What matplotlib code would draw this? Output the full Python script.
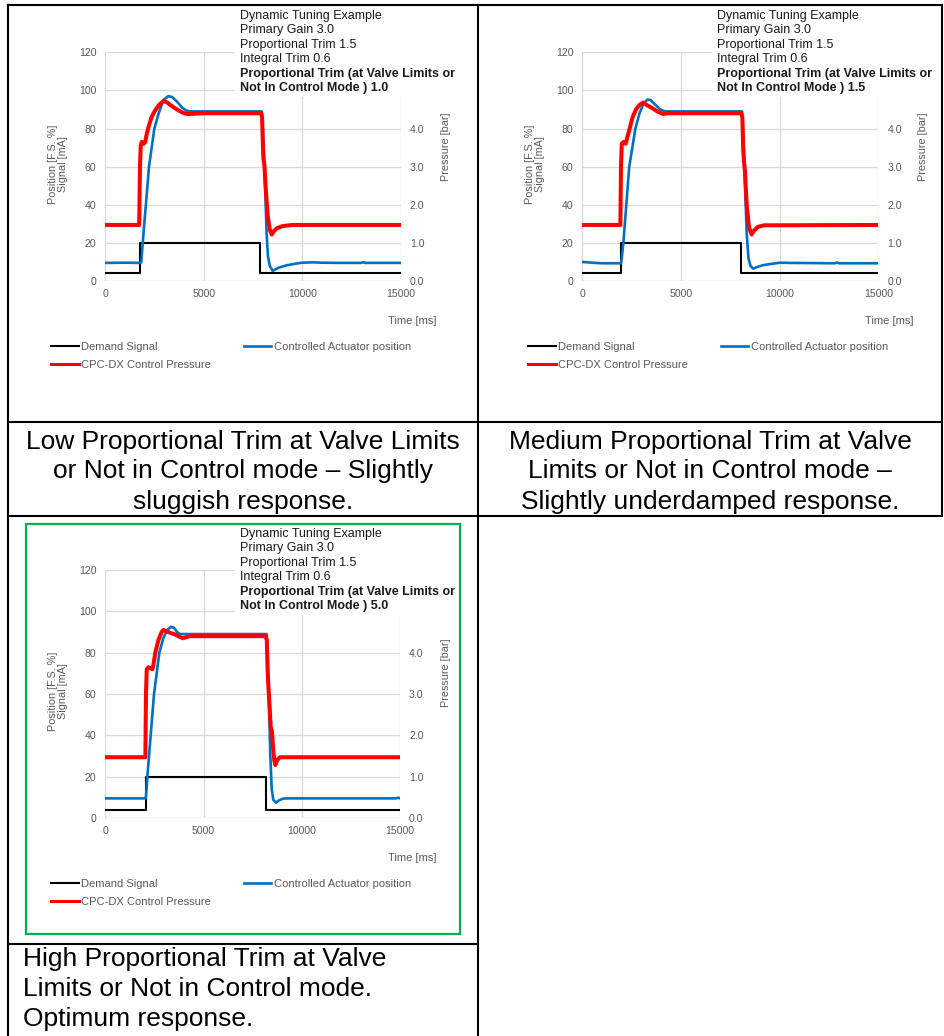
import matplotlib
matplotlib.use("Agg")
import matplotlib.pyplot as plt
from matplotlib.lines import Line2D
from matplotlib.patches import Rectangle

plt.rcParams['font.family'] = ['Liberation Sans', 'DejaVu Sans']

# ---------------- data ----------------
# Panel 1: Proportional trim (valve limits) 1.0
t_demand_1 = [0, 1760, 1760, 7880, 7880, 15000]
demand_1 = [4, 4, 20, 20, 4, 4]
t_pos_1 = [0, 1000, 1800, 1830, 1900, 2220, 2490, 2710, 2950, 3200, 3400, 3650, 3900, 4100, 4300,
           7940, 8000, 8100, 8190, 8260, 8350, 8500, 8800, 9200, 9600, 10000, 10500, 11000, 12000,
           13000, 13100, 13200, 15000]
pos_1 = [9.5, 9.6, 9.5, 10, 20, 60, 80, 88, 95, 97, 96.5, 94, 91, 89.5, 89,
         89, 80, 55, 25, 13, 8, 5.3, 7.0, 8.2, 9.0, 9.6, 9.8, 9.6, 9.5,
         9.5, 9.9, 9.5, 9.5]
t_pres_1 = [0, 1720, 1760, 1800, 1850, 1950, 2030, 2100, 2200, 2350, 2500, 2700, 2900, 3000, 3150,
            3400, 3700, 4000, 4200, 5000, 7920, 7960, 8000, 8030, 8080, 8150, 8250, 8350, 8450,
            8550, 8700, 9000, 9500, 15000]
pres_1 = [1.47, 1.47, 3.0, 3.55, 3.65, 3.6, 3.65, 3.85, 4.05, 4.3, 4.45, 4.6, 4.7, 4.72, 4.68,
          4.58, 4.48, 4.4, 4.38, 4.4, 4.4, 4.3, 3.6, 3.2, 3.05, 2.4, 1.7, 1.35, 1.22,
          1.3, 1.38, 1.44, 1.47, 1.47]

# Panel 2: Proportional trim (valve limits) 1.5
t_demand_2 = [0, 1940, 1940, 8040, 8040, 15000]
demand_2 = [4, 4, 20, 20, 4, 4]
t_pos_2 = [0, 500, 1000, 1960, 2000, 2080, 2380, 2690, 2900, 3100, 3300, 3450, 3700, 3950, 4200,
           8100, 8150, 8250, 8330, 8420, 8520, 8650, 8900, 9200, 9600, 10000, 10500, 12800, 12900,
           13000, 15000]
pos_2 = [10.0, 9.6, 9.3, 9.3, 12, 20, 60, 80, 88, 93, 95.2, 95, 92.5, 90, 89,
         89, 80, 50, 25, 12, 8, 6.5, 7.5, 8.4, 9.0, 9.6, 9.5, 9.3, 9.7,
         9.3, 9.3]
t_pres_2 = [0, 1930, 1960, 2000, 2100, 2200, 2270, 2400, 2550, 2720, 2900, 3090, 3250, 3500, 3800,
            4100, 4300, 8050, 8110, 8150, 8190, 8240, 8330, 8450, 8580, 8700, 8900, 9200, 15000]
pres_2 = [1.47, 1.47, 3.0, 3.6, 3.65, 3.6, 3.75, 4.0, 4.3, 4.5, 4.62, 4.68, 4.62, 4.55, 4.45,
          4.38, 4.4, 4.4, 4.3, 3.5, 3.15, 2.9, 2.0, 1.4, 1.22, 1.32, 1.42, 1.46, 1.47]

# Panel 3: Proportional trim (valve limits) 5.0
t_demand_3 = [0, 2050, 2050, 8160, 8160, 15000]
demand_3 = [4, 4, 20, 20, 4, 4]
t_pos_3 = [0, 2060, 2100, 2140, 2480, 2750, 2950, 3150, 3340, 3500, 3650, 3800, 8210, 8260, 8330,
           8400, 8470, 8550, 8690, 8850, 9060, 9300, 14800, 14900, 15000]
pos_3 = [9.5, 9.5, 14, 20, 60, 80, 87, 91, 92.5, 92, 90, 89, 89, 78, 55,
         30, 14, 8.8, 7.4, 8.6, 9.4, 9.5, 9.5, 9.8, 9.5]
t_pres_3 = [0, 2040, 2070, 2110, 2200, 2400, 2450, 2545, 2700, 2870, 2950, 3100, 3300, 3500, 3800,
            3950, 4300, 8160, 8220, 8260, 8300, 8350, 8420, 8480, 8540, 8600, 8654, 8750, 8890, 15000]
pres_3 = [1.47, 1.47, 3.0, 3.6, 3.65, 3.6, 3.7, 4.0, 4.3, 4.5, 4.55, 4.52, 4.48, 4.45, 4.38,
          4.35, 4.4, 4.4, 4.3, 3.6, 3.2, 2.8, 2.2, 2.1, 1.7, 1.4, 1.28, 1.4, 1.47, 1.47]

x_ticks = [0, 5000, 10000, 15000]
y_ticks = [0, 20, 40, 60, 80, 100, 120]
p_ticks = [0, 1, 2, 3, 4, 5, 6]

series_names = ["Demand Signal", "Controlled Actuator position", "CPC-DX Control Pressure"]
box_lines = ["Dynamic Tuning Example", "Primary Gain 3.0", "Proportional Trim 1.5", "Integral Trim 0.6"]
box_bold = ["Proportional Trim (at Valve Limits or", "Not In Control Mode ) {}"]
trim_values = ["1.0", "1.5", "5.0"]

caption_1 = ["Low Proportional Trim at Valve Limits", "or Not in Control mode \u2013 Slightly", "sluggish response."]
caption_2 = ["Medium Proportional Trim at Valve", "Limits or Not in Control mode \u2013", "Slightly underdamped response."]
caption_3 = ["High Proportional Trim at Valve", "Limits or Not in Control mode.", "Optimum response."]

# ---------------- layout helpers ----------------
W, H = 944, 1036
fig = plt.figure(figsize=(W / 100, H / 100), dpi=100)
fig.patch.set_facecolor('white')


def fx(px):
    return px / W


def fy(py):
    return 1 - py / H


GRID = '#d9d9d9'
TXT = '#595959'


def panel(x0, x1, ytop, ybot, td, dem, tp, pos, tr, pres, trim):
    ax = fig.add_axes([fx(x0), fy(ybot), (x1 - x0) / W, (ybot - ytop) / H])
    ax.set_xlim(0, 15000)
    ax.set_ylim(0, 120)
    ax.set_xticks(x_ticks)
    ax.set_yticks(y_ticks)
    ax.grid(True, color=GRID, lw=0.9)
    ax.set_axisbelow(True)
    for s in ax.spines.values():
        s.set_visible(False)
    ax.tick_params(length=0, labelsize=7.6, labelcolor=TXT)
    ax.tick_params(axis='y', pad=6.5)
    ax.tick_params(axis='x', pad=6.0)
    l_dem, = ax.plot(td, dem, color='black', lw=1.5)
    l_pos, = ax.plot(tp, pos, color='#0070c0', lw=1.9)
    ax2 = ax.twinx()
    ax2.set_ylim(0, 6)
    ax2.set_yticks(p_ticks)
    ax2.set_yticklabels([f"{v:.1f}" for v in p_ticks])
    for s in ax2.spines.values():
        s.set_visible(False)
    ax2.tick_params(length=0, labelsize=7.6, labelcolor=TXT, pad=6.5)
    l_pr, = ax2.plot(tr, pres, color='#ff0000', lw=2.9)

    width = x1 - x0
    ax.set_ylabel("Position [F.S. %]\nSignal [mA]", fontsize=7.8, color=TXT, linespacing=1.05)
    ax.yaxis.set_label_coords(-37.0 / width, 0.51)
    ax2.set_ylabel("Pressure [bar]", fontsize=7.8, color=TXT)
    ax2.yaxis.set_label_coords(336.0 / width, 0.585)

    fig.text(fx(x0 + 306.5), fy(ybot + 40), "Time [ms]", fontsize=8, color=TXT, ha='center', va='center')

    leg = ax.legend([l_dem, l_pr, l_pos], [series_names[0], series_names[2], series_names[1]],
                    ncol=2, loc='upper left', bbox_to_anchor=(fx(x0 - 54.3), fy(ybot + 61)),
                    bbox_transform=fig.transFigure, frameon=False, fontsize=8,
                    handlelength=2.5, handletextpad=0.2, columnspacing=2.95,
                    labelspacing=0.72, borderpad=0, borderaxespad=0)
    for t in leg.get_texts():
        t.set_color(TXT)
    for h in leg.get_lines():
        h.set_linewidth(min(h.get_linewidth(), 2.2))

    # white info box over the upper-right of the chart
    bx0, bx1 = x0 + 129.7, x0 + 366
    btop, bbot = ytop - 46, ytop + 44.5
    fig.patches.append(Rectangle((fx(bx0), fy(bbot)), (bx1 - bx0) / W, (bbot - btop) / H,
                                 transform=fig.transFigure, facecolor='white', edgecolor='none',
                                 zorder=5))
    lines = box_lines + [box_bold[0], box_bold[1].format(trim)]
    for i, s in enumerate(lines):
        fig.text(fx(x0 + 135), fy(ytop - 36.3 + i * 14.45), s, fontsize=9, color='#1a1a1a',
                 ha='left', va='center', fontweight='bold' if i >= 4 else 'normal', zorder=6)
    return ax


panel(105.3, 400.7, 52.3, 281, t_demand_1, demand_1, t_pos_1, pos_1, t_pres_1, pres_1, trim_values[0])
panel(582.3, 878.3, 52.3, 281, t_demand_2, demand_2, t_pos_2, pos_2, t_pres_2, pres_2, trim_values[1])
panel(105.3, 400.0, 570, 818, t_demand_3, demand_3, t_pos_3, pos_3, t_pres_3, pres_3, trim_values[2])

# green frame around third chart
fig.patches.append(Rectangle((fx(26.3), fy(934)), (460.3 - 26.3) / W, (934 - 524) / H,
                             transform=fig.transFigure, facecolor='none', edgecolor='#00b050',
                             lw=1.6, zorder=7))

# table lines
def hline(y, xa, xb):
    fig.add_artist(Line2D([fx(xa), fx(xb)], [fy(y), fy(y)], color='black', lw=1.5, zorder=10,
                          solid_capstyle='projecting'))


def vline(x, ya, yb):
    fig.add_artist(Line2D([fx(x), fx(x)], [fy(ya), fy(yb)], color='black', lw=1.5, zorder=10,
                          solid_capstyle='projecting'))


hline(5, 8, 942)
hline(422, 8, 942)
hline(516, 8, 942)
hline(944, 8, 478)
vline(8, 5, 1036)
vline(478, 5, 1036)
vline(942, 5, 516)

# captions
for i, s in enumerate(caption_1):
    fig.text(fx(243), fy(448.5 + 30 * i), s, fontsize=19, ha='center', va='baseline', color='black')
for i, s in enumerate(caption_2):
    fig.text(fx(710), fy(448.5 + 30 * i), s, fontsize=19, ha='center', va='baseline', color='black')
for i, s in enumerate(caption_3):
    fig.text(fx(22.7), fy(966 + 30 * i), s, fontsize=19, ha='left', va='baseline', color='black')

fig.savefig("out.png", dpi=100, facecolor='white')
